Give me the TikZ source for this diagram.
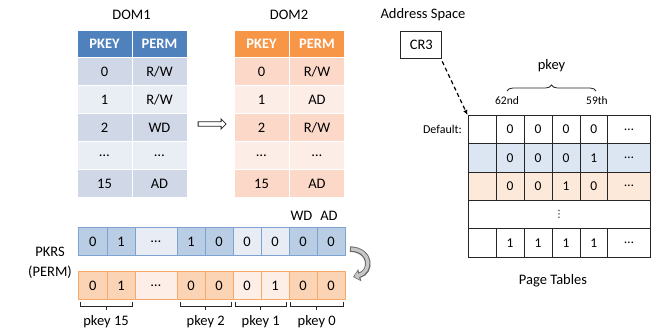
\documentclass[tikz,border=0pt]{standalone}
\usepackage{fontspec}
\setmainfont{Carlito}
\newfontfamily\dejavu{DejaVu Sans}
\usetikzlibrary{arrows.meta,shapes.arrows,decorations.pathreplacing}
\definecolor{dblue}{HTML}{4F81BD}
\definecolor{dbdark}{HTML}{D0D8E8}
\definecolor{dblight}{HTML}{E9EDF4}
\definecolor{dorange}{HTML}{F79646}
\definecolor{dodark}{HTML}{FCD8C8}
\definecolor{dolight}{HTML}{FDEDE7}
\definecolor{rblue}{HTML}{B9CDE5}
\definecolor{rblight}{HTML}{E8EDF5}
\definecolor{rbline}{HTML}{7EA3D3}
\definecolor{rorange}{HTML}{FBD3B5}
\definecolor{rolight}{HTML}{FDEEE8}
\definecolor{roline}{HTML}{F8A868}
\definecolor{ptblue}{HTML}{DCE6F2}
\definecolor{ptorange}{HTML}{FDE9D9}
\begin{document}
\begin{tikzpicture}[x=1pt,y=-1pt,font=\fontsize{14.5}{16.5}\selectfont,
  tcell/.style={anchor=north west,draw=white,line width=1pt,inner sep=0pt,minimum width=55pt,minimum height=28pt},
  hcell/.style={tcell,minimum height=27pt,text=white,font=\fontsize{14.5}{16.5}\selectfont\bfseries},
  rcell/.style={anchor=north west,draw,line width=1pt,inner sep=0pt,minimum height=28pt},
  pcell/.style={anchor=north west,draw=black!85,line width=0.9pt,inner sep=0pt,minimum height=28.3pt,font=\fontsize{13.5}{15}\selectfont},
  brk/.style={line width=0.8pt,draw=black!85},
  lbl/.style={inner sep=1pt}]
\useasboundingbox (0,0) rectangle (657,333);

% ---------- DOM1 ----------
\node[lbl] (t1) at (131.5,15) {DOM1};
\node[hcell,fill=dblue] (d1hk) at (76.5,30) {PKEY};
\node[hcell,fill=dblue] (d1hp) at (131.5,30) {PERM};
\foreach \i/\k/\p/\f in {0/0/{R/W}/dbdark,1/1/{R/W}/dblight,2/2/WD/dbdark,3/\ldots/\ldots/dblight,4/15/AD/dbdark}{
  \node[tcell,fill=\f] (d1k\i) at (76.5,{57+28*\i}) {\k};
  \node[tcell,fill=\f] (d1p\i) at (131.5,{57+28*\i}) {\p};
}
% ---------- DOM2 ----------
\node[lbl] (t2) at (289,15) {DOM2};
\node[hcell,fill=dorange] (d2hk) at (233.5,30) {PKEY};
\node[hcell,fill=dorange] (d2hp) at (289,30) {PERM};
\foreach \i/\k/\p/\f in {0/0/{R/W}/dodark,1/1/AD/dolight,2/2/{R/W}/dodark,3/\ldots/\ldots/dolight,4/15/AD/dodark}{
  \node[tcell,fill=\f] (d2k\i) at (233.5,{57+28*\i}) {\k};
  \node[tcell,fill=\f] (d2p\i) at (289,{57+28*\i}) {\p};
}
% block arrow between tables
\node[single arrow,draw=black!85,fill=white,line width=0.8pt,minimum height=28pt,
      inner sep=1.8pt,single arrow head extend=2.8pt] (harr) at (211,124) {};

% ---------- PKRS registers ----------
\node[lbl,align=center] (pkrs) at (50,263) {PKRS\\[3pt](PERM)};
\foreach \n/\x/\w/\t/\f in {1/78/28.5/0/rblue,2/106.5/28/1/rblue,3/134.5/42/\ldots/rblight,
    4/176.5/28/1/rblue,5/204.5/28/0/rblue,6/232.5/28/0/rblight,7/260.5/28/0/rblight,
    8/288.5/28/0/rblue,9/316.5/28/0/rblue}{
  \node[rcell,draw=rbline,fill=\f,minimum width=\w pt] (ra\n) at (\x,227) {\t};
}
\foreach \n/\x/\w/\t/\f in {1/78/28.5/0/rorange,2/106.5/28/1/rorange,3/134.5/42/\ldots/rolight,
    4/176.5/28/0/rorange,5/204.5/28/0/rorange,6/232.5/28/0/rolight,7/260.5/28/1/rolight,
    8/288.5/28/0/rorange,9/316.5/28/0/rorange}{
  \node[rcell,draw=roline,fill=\f,minimum width=\w pt] (rb\n) at (\x,271) {\t};
}
\node[lbl] (wd) at (301.5,216) {WD};
\node[lbl] (ad) at (329,216) {AD};

% brackets under the orange register
\foreach \nm/\a/\b/\t in {k15/80/132/pkey 15,k2/180/231.5/pkey 2,k1/235/286.5/pkey 1,k0/290.5/343/pkey 0}{
  \draw[brk] (\a,302) -- (\a,306) -- (\b,306) -- (\b,302);
  \draw[brk] ({(\a+\b)/2},306) -- ({(\a+\b)/2},310);
  \node[lbl] (\nm) at ({(\a+\b)/2},322) {\t};
}

% curved swap arrow
\draw[line width=5.5pt,draw=black!60,-{Triangle[length=7pt,width=12pt]}]
  (350,249) .. controls (372,250) and (372,272) .. (353,277);
\draw[line width=3.3pt,draw=black!22,shorten >=1.2pt,-{Triangle[length=4.6pt,width=8.5pt]}]
  (351,249) .. controls (372,250) and (372,272) .. (353,277);

% ---------- Address space / page tables ----------
\node[lbl] (as) at (423,15) {Address Space};
\node[draw=black!85,line width=0.9pt,minimum width=41pt,minimum height=27pt,inner sep=0pt] (cr3) at (421.3,44.5) {CR3};

\fill[ptblue] (467.5,143.3) rectangle (650,171.6);
\fill[ptorange] (467.5,171.6) rectangle (650,199.9);
\foreach \r/\a/\b/\c/\d in {1/0/0/0/0,2/0/0/0/1,3/0/0/1/0,5/1/1/1/1}{
  \node[pcell,minimum width=28pt] (pt\r-0) at (467.5,{115+28.3*(\r-1)}) {};
  \node[pcell,minimum width=28pt] (pt\r-1) at (495.5,{115+28.3*(\r-1)}) {\a};
  \node[pcell,minimum width=28pt] (pt\r-2) at (523.5,{115+28.3*(\r-1)}) {\b};
  \node[pcell,minimum width=28pt] (pt\r-3) at (551.5,{115+28.3*(\r-1)}) {\c};
  \node[pcell,minimum width=27.5pt] (pt\r-4) at (579.5,{115+28.3*(\r-1)}) {\d};
  \node[pcell,minimum width=43pt] (pt\r-5) at (607,{115+28.3*(\r-1)}) {\ldots};
}
\node[pcell,minimum width=182.5pt] (pt4) at (467.5,199.9) {\dejavu\fontsize{10}{12}\selectfont ⋮};
\node[lbl,anchor=east,font=\fontsize{12}{14}\selectfont] (def) at (463,129) {Default:};

\node[lbl,font=\fontsize{11.5}{13}\selectfont] (l62) at (507,101) {62nd};
\node[lbl,font=\fontsize{11.5}{13}\selectfont] (l59) at (597,101) {59th};
\draw[brk,decorate,decoration={brace,amplitude=6pt}] (507,91) -- (596,91);
\node[lbl] (pk) at (551.5,66) {pkey};

\draw[line width=1.2pt,dash pattern=on 4pt off 3pt,-{Latex[length=5pt,width=4.5pt]}]
  ([yshift=-3pt]cr3.south east) -- (pt1-0.north west);

\node[lbl] (ptl) at (553,281) {Page Tables};
\end{tikzpicture}
\end{document}
